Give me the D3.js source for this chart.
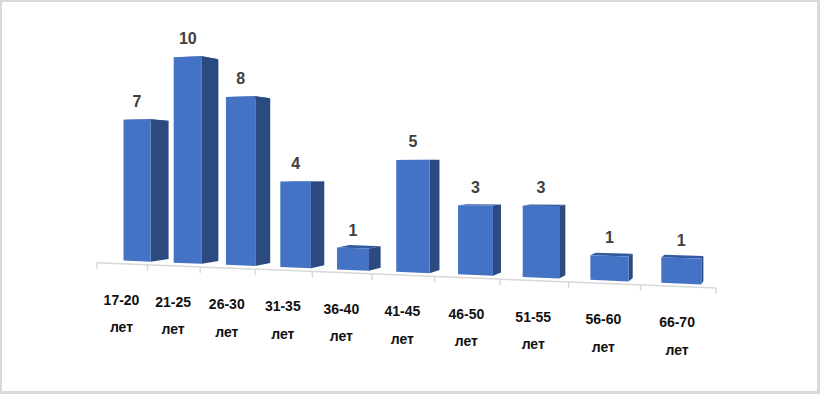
<!DOCTYPE html>
<html>
<head>
<meta charset="utf-8">
<script src="https://cdn.jsdelivr.net/npm/d3@7"></script>
<style>
  html, body { margin: 0; padding: 0; background: #fff; }
  svg { display: block; }
  text { font-family: "Liberation Sans", Arial, sans-serif; font-weight: bold; text-anchor: middle; dominant-baseline: central; }
</style>
</head>
<body>
<div id="chart"></div>
<script>
'use strict';

const ageRanges = ['17-20', '21-25', '26-30', '31-35', '36-40', '41-45', '46-50', '51-55', '56-60', '66-70'];
const ageUnit = 'лет';
const counts = [7, 10, 8, 4, 1, 5, 3, 3, 1, 1];

const width = 820;
const height = 394;
const colors = { front: '#4472c4', side: '#2a4a80', top: '#315a9e', axis: '#d9d9d9', frame: '#d9d9d9', value: '#404040', label: '#111111' };

const svg = d3.select('#chart').append('svg')
  .attr('width', width)
  .attr('height', height);

svg.append('rect').attr('width', width).attr('height', height).attr('fill', colors.frame);
svg.append('rect').attr('x', 2).attr('y', 2).attr('width', width - 5).attr('height', height - 5).attr('fill', '#fff');

// the chart is a 3d column chart seen at an angle, so slots get wider to the right
const slotCount = ageRanges.length;
const perspective = 1.25;
const screenX = d3.scaleLinear().domain([0, 1]).range([97, 716]);
const x = function (slot) {
  const s = slot / slotCount;
  return screenX(s / (s + (1 - s) * perspective));
};
const axisY = d3.scaleLinear().domain([97, 716]).range([262.7, 288]);
const baseY = d3.scaleLinear().domain([97, 716]).range([259.5, 285]);
const unitHeight = d3.scaleLinear().domain([97, 412, 716]).range([19.9, 22.5, 25.95]);

// front faces sit on a plane slightly narrower than the axis
const faceStart = d3.scaleLinear().domain([0, slotCount - 1]).range([0.53, 9.28]);
const faceWidth = 0.53;

const vanishing = [770, 165];
const depth = 0.029;

const frontPoint = function (slot, value) {
  const px = x(slot);
  return [px, baseY(px) - unitHeight(px) * value];
};
const backPoint = function (p) {
  return [p[0] + (vanishing[0] - p[0]) * depth, p[1] + (vanishing[1] - p[1]) * depth];
};
const polygon = d3.line();

// axis line and ticks
const axis = svg.append('g').attr('class', 'x-axis');
axis.append('line')
  .attr('x1', x(0)).attr('y1', axisY(x(0)))
  .attr('x2', x(slotCount)).attr('y2', axisY(x(slotCount)))
  .attr('stroke', colors.axis).attr('stroke-width', 1.5);
axis.selectAll('.tick')
  .data(d3.range(slotCount + 1))
  .join('line')
  .attr('class', 'tick')
  .attr('x1', function (d) { return x(d); })
  .attr('x2', function (d) { return x(d); })
  .attr('y1', function (d) { return axisY(x(d)); })
  .attr('y2', function (d) { return axisY(x(d)) + 6; })
  .attr('stroke', colors.axis).attr('stroke-width', 1.5);

// columns
const bars = svg.selectAll('.bar')
  .data(counts)
  .join('g')
  .attr('class', 'bar');

bars.each(function (d, i) {
  const g = d3.select(this);
  const left = faceStart(i);
  const right = left + faceWidth;
  const topLeft = frontPoint(left, d);
  const topRight = frontPoint(right, d);
  const bottomLeft = frontPoint(left, 0);
  const bottomRight = frontPoint(right, 0);

  g.append('path')
    .attr('d', polygon([topLeft, backPoint(topLeft), backPoint(topRight), topRight]) + 'Z')
    .attr('fill', colors.top);
  g.append('path')
    .attr('d', polygon([topRight, backPoint(topRight), backPoint(bottomRight), bottomRight]) + 'Z')
    .attr('fill', colors.side);
  g.append('path')
    .attr('d', polygon([topLeft, topRight, bottomRight, bottomLeft]) + 'Z')
    .attr('fill', colors.front);

  g.append('text')
    .attr('x', (topLeft[0] + topRight[0]) / 2)
    .attr('y', (topLeft[1] + topRight[1]) / 2 - 18)
    .attr('font-size', 16)
    .attr('fill', colors.value)
    .text(d);
});

// category labels, two lines each
const labels = svg.selectAll('.label')
  .data(ageRanges)
  .join('g')
  .attr('class', 'label')
  .attr('fill', colors.label)
  .attr('font-size', 14);

labels.each(function (d, i) {
  const px = x(i + 0.49);
  const g = d3.select(this);
  g.append('text').attr('x', px).attr('y', axisY(px) + 36).text(d);
  g.append('text').attr('x', px).attr('y', axisY(px) + 63.5).text(ageUnit);
});
</script>
</body>
</html>
